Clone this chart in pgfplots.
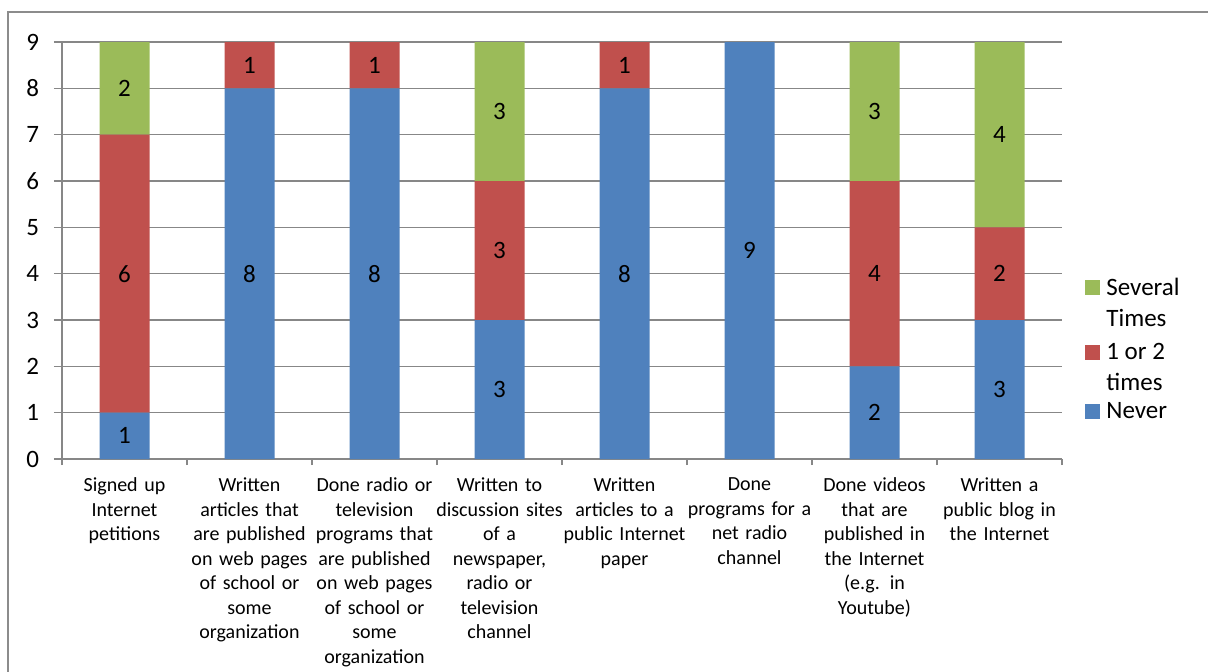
\documentclass[border=0pt]{standalone}
\usepackage{pgfplots}
\pgfplotsset{compat=1.18}
\usepackage{pgfplotstable}
\usepackage{fontspec}
\setmainfont{Carlito}

\definecolor{never}{HTML}{4F81BD}
\definecolor{once}{HTML}{C0504D}
\definecolor{several}{HTML}{9BBB59}
\definecolor{gridgray}{HTML}{878787}
\definecolor{framegray}{HTML}{8C8C8C}

\newcommand\bigfont{\fontsize{12.5}{15.5}\selectfont}
\newcommand\catfont{\fontsize{10}{12.25}\selectfont}
\newcommand\twolines[2]{{\begin{tabular}[t]{@{}l@{}}#1\\#2\end{tabular}}}

% answers per activity: never / 1 or 2 times / several times
\pgfplotstableread{
cat never once several
0   1     6    2
1   8     1    0
2   8     1    0
3   3     3    3
4   8     1    0
5   9     0    0
6   2     4    3
7   3     2    4
}\activities

\begin{document}
\begin{tikzpicture}
\useasboundingbox (0,0) rectangle (604pt,335.5pt);
\begin{scope}
  \clip (0,0) rectangle (604pt,335.5pt);
  \draw[framegray, line width=0.9pt] (4pt,-20pt) -- (4pt,329.5pt) -- (640pt,329.5pt);
\end{scope}
\begin{axis}[
  at={(31pt,106pt)}, anchor=south west,
  scale only axis, width=500pt, height=208.5pt,
  ybar stacked, bar width=25pt,
  xmin=-0.5, xmax=7.5, ymin=0, ymax=9,
  axis x line*=bottom, axis y line*=left,
  axis line style={gridgray, line width=0.8pt, -},
  ymajorgrids, grid style={gridgray, line width=0.8pt},
  ytick={0,...,9},
  tick align=outside, major tick length=4pt,
  y tick style={gridgray, line width=0.8pt},
  yticklabel style={font=\bigfont, text=black, xshift=-4pt},
  /pgf/number format/assume math mode=true,
  xtick={0,...,7},
  x tick style={draw=none},
  xticklabels={
    {Signed up\\Internet\\petitions},
    {Written\\articles that\\are published\\on web pages\\of school or\\some\\organization},
    {Done radio or\\television\\programs that\\are published\\on web pages\\of school or\\some\\organization},
    {Written to\\discussion sites\\of a\\newspaper,\\radio or\\television\\channel},
    {Written\\articles to a\\public Internet\\paper},
    {Done\\programs for a\\net radio\\channel},
    {Done videos\\that are\\published in\\the Internet\\(e.g. in\\Youtube)},
    {Written a\\public blog in\\the Internet}},
  xticklabel style={font=\catfont, text width=64pt, align=center, anchor=north, yshift=-2pt},
  extra x ticks={-0.5,0.5,...,7.5},
  extra x tick labels={},
  extra x tick style={grid=none, x tick style={draw=gridgray, line width=0.8pt}, major tick length=3pt},
  % segment values, centred in their segments; empty segments get no label
  nodes near coords={\pgfmathtruncatemacro\labval{\val}\ifnum\labval>0 \labval\fi},
  every node near coord/.append style={anchor=center, font=\bigfont, text=black},
  reverse legend,
  legend style={at={(1.023,0.4556)}, anchor=north west, draw=none, fill=none,
    font=\bigfont, inner sep=0pt, row sep=16pt, column sep=1pt,
    cells={anchor=base west}},
  legend image code/.code={\fill[#1] (0pt,0pt) rectangle (7.5pt,7.5pt);},
]
\addplot[fill=never, draw=none, visualization depends on={\thisrow{never}\as\val}]
  table[x=cat, y=never]{\activities};
\addlegendentry{Never}
\addplot[fill=once, draw=none, visualization depends on={\thisrow{once}\as\val}]
  table[x=cat, y=once]{\activities};
\addlegendentry{\twolines{1 or 2}{times}}
\addplot[fill=several, draw=none, visualization depends on={\thisrow{several}\as\val}]
  table[x=cat, y=several]{\activities};
\addlegendentry{\twolines{Several}{Times}}
\end{axis}
\end{tikzpicture}
\end{document}
